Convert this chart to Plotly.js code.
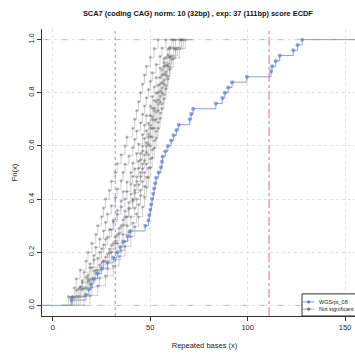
<!DOCTYPE html>
<html>
<head>
<meta charset="utf-8">
<script src="https://cdn.plot.ly/plotly-3.0.1.min.js"></script>
<style>
html,body{margin:0;padding:0;overflow:hidden;background:#fff;width:355px;height:356px;}
#chart{width:372px;height:356px;}
</style>
</head>
<body>
<div id="chart"></div>
<script>
// ---- data ----
const chartTitle = "SCA7 (coding CAG) norm: 10 (32bp) , exp: 37 (111bp) score ECDF";
const xTitle = "Repeated bases (x)";
const yTitle = "Fn(x)";
const xTicks = [0, 50, 100, 150];
const yTicks = [0, 0.2, 0.4, 0.6, 0.8, 1.0];
const normBp = 32;
const expBp = 111;

const sampleName = "WGSrpt_08";
const sampleValues = [9.6, 17, 18.5, 19.5, 21, 23, 25, 28, 31, 33, 34.5, 36, 38.3, 39.7, 47.4,
  49.1, 49.5, 50, 50.5, 50.9, 51.5, 52, 52.5, 53, 54.3, 55.5, 56, 56.3, 57.7, 59,
  60.7, 62, 63.4, 64.6, 70.3, 71, 72, 83.7, 87, 88.3, 90, 92, 99.6, 112, 112.5,
  114.4, 116.5, 123.4, 125.6, 128];

const otherName = "Not significant";
const ns01 = [8, 11, 12, 14, 17, 18, 20, 22, 23, 25, 26, 27, 29, 30, 32, 33, 35, 37, 38, 41, 42, 43, 44, 45, 46, 47, 48, 50, 52, 54];
const ns02 = [10, 13, 15, 16, 19, 21, 22, 24, 26, 27, 28, 30, 32, 33, 35, 36, 37, 39, 41, 42, 43, 45, 46, 47, 48, 49, 50, 51, 53, 55, 56, 58];
const ns03 = [12, 14, 17, 20, 23, 25, 27, 29, 31, 33, 35, 36, 38, 40, 41, 43, 44, 46, 47, 48, 50, 51, 52, 53, 55, 57, 59, 61];
const ns04 = [9, 12, 15, 18, 19, 21, 24, 26, 28, 30, 31, 33, 35, 37, 38, 40, 41, 42, 44, 45, 46, 47, 48, 49, 50, 51, 52, 53, 54, 55, 56, 57, 59, 60, 63];
const ns05 = [14, 17, 20, 23, 26, 29, 31, 33, 35, 37, 39, 41, 42, 43, 45, 46, 47, 48, 49, 50, 51, 52, 53, 54, 55, 56, 57, 58, 60, 62];
const ns06 = [11, 15, 18, 22, 24, 27, 29, 32, 34, 36, 38, 39, 41, 42, 44, 45, 46, 47, 48, 49, 50, 51, 52, 53, 54, 55, 56, 57, 58, 59, 61, 64, 66];
const ns07 = [16, 20, 24, 28, 32, 35, 37, 39, 41, 43, 44, 45, 47, 48, 49, 50, 51, 52, 53, 54, 55, 56, 57, 58, 59, 60, 62, 65, 68];
const ns08 = [13, 16, 19, 21, 25, 28, 30, 32, 34, 36, 37, 39, 40, 42, 43, 44, 45, 46, 48, 49, 50, 51, 52, 54, 55, 56, 57, 58, 60, 62, 65];
const ns09 = [19, 23, 27, 31, 34, 37, 40, 42, 44, 46, 47, 48, 49, 50, 51, 52, 53, 54, 55, 56, 57, 58, 59, 60, 61, 63, 66];
const ns10 = [10, 14, 18, 22, 26, 30, 33, 36, 38, 40, 42, 43, 45, 46, 47, 48, 49, 50, 51, 52, 53, 54, 55, 56, 57, 58, 59, 60, 63, 67];
const otherSamples = [ns01, ns02, ns03, ns04, ns05, ns06, ns07, ns08, ns09, ns10];

// ---- styles ----
const sampleLine = 'rgba(120,145,215,0.85)';
const sampleMarker = 'rgba(95,120,205,0.95)';
const otherLine = 'rgba(165,165,165,0.5)';
const otherMarker = 'rgba(60,60,60,0.5)';

// ---- build ECDF step traces ----
function ecdfTrace(vals, opts) {
  const v = vals.slice().sort((a, b) => a - b);
  const n = v.length;
  const xs = [opts.left], ys = [0], sz = [0];
  v.forEach((x, i) => { xs.push(x); ys.push((i + 1) / n); sz.push(opts.msize); });
  xs.push(opts.right); ys.push(1); sz.push(0);
  return {
    type: 'scatter', mode: 'lines+markers', x: xs, y: ys,
    line: {shape: 'hv', color: opts.lcolor, width: 1},
    marker: {size: sz, color: opts.mcolor, symbol: 'circle', line: {width: 0}},
    name: opts.name, showlegend: false, hoverinfo: 'x+y'
  };
}

const traces = [];
otherSamples.forEach(s => {
  const lo = Math.min(...s), hi = Math.max(...s);
  const ext = 0.08 * (hi - lo);
  traces.push(ecdfTrace(s, {left: lo - ext, right: hi + ext, msize: 3,
    lcolor: otherLine, mcolor: otherMarker, name: otherName}));
});
traces.push(ecdfTrace(sampleValues, {left: -20, right: 200, msize: 4,
  lcolor: sampleLine, mcolor: sampleMarker, name: sampleName}));

// ---- compact legend box (bottom-right, as in the reference) ----
const legendItems = [
  {label: sampleName, line: sampleLine, marker: sampleMarker, y: 0.049},
  {label: otherName, line: 'rgba(150,150,150,0.8)', marker: 'rgba(90,90,90,0.8)', y: 0.024}
];
const legendShapes = [{type: 'rect', xref: 'paper', yref: 'paper', x0: 0.8, x1: 1.0, y0: 0, y1: 0.077,
  fillcolor: '#fff', line: {color: '#333', width: 1}, layer: 'above'}];
const legendAnn = [];
legendItems.forEach(it => {
  legendShapes.push({type: 'line', xref: 'paper', yref: 'paper', x0: 0.803, x1: 0.838, y0: it.y, y1: it.y,
    line: {color: it.line, width: 1}, layer: 'above'});
  legendShapes.push({type: 'circle', xref: 'paper', yref: 'paper', xsizemode: 'pixel', ysizemode: 'pixel',
    xanchor: 0.8205, yanchor: it.y, x0: -1.6, x1: 1.6, y0: -1.6, y1: 1.6,
    fillcolor: it.marker, line: {width: 0}, layer: 'above'});
  legendAnn.push({xref: 'paper', yref: 'paper', x: 0.846, y: it.y, xanchor: 'left', yanchor: 'middle',
    text: it.label, showarrow: false, font: {size: 5.5, color: '#222'}});
});

const font = 'Liberation Sans, Arial, Helvetica, sans-serif';
const layout = {
  width: 372, height: 356,
  margin: {l: 42, r: 5, t: 29, b: 40},
  paper_bgcolor: '#fff', plot_bgcolor: '#fff',
  font: {family: font, size: 8, color: '#222'},
  title: {text: '<b>' + chartTitle + '</b>', font: {family: font, size: 7.4, color: '#111'},
          xref: 'container', x: 0.532, xanchor: 'center', yref: 'container', y: 0.963, yanchor: 'middle'},
  xaxis: {
    range: [-5.6, 161.3], tickvals: xTicks, ticktext: xTicks.map(String),
    ticks: 'outside', ticklen: 4, tickcolor: '#333', tickfont: {size: 7.5},
    showline: true, linecolor: '#333', linewidth: 1, mirror: false,
    showgrid: true, gridcolor: '#e2e2e2', griddash: 'dot', gridwidth: 1, zeroline: false,
    title: {text: xTitle, font: {size: 7.5}, standoff: 11}
  },
  yaxis: {
    range: [-0.04, 1.04], tickvals: yTicks, ticktext: yTicks.map(v => v.toFixed(1)),
    ticks: 'outside', ticklen: 4, tickcolor: '#333', tickfont: {size: 7.5}, tickangle: -90,
    showline: true, linecolor: '#333', linewidth: 1, mirror: false,
    showgrid: true, gridcolor: '#e2e2e2', griddash: 'dot', gridwidth: 1, zeroline: false,
    title: {text: yTitle, font: {size: 7.5}, standoff: 8}
  },
  shapes: [
    {type: 'line', xref: 'paper', x0: 0, x1: 1, yref: 'y', y0: 0, y1: 0, layer: 'below',
     line: {color: '#b3b3b3', width: 1, dash: 'dash'}},
    {type: 'line', xref: 'paper', x0: 0, x1: 1, yref: 'y', y0: 1, y1: 1, layer: 'below',
     line: {color: '#b3b3b3', width: 1, dash: 'dash'}},
    {type: 'line', xref: 'x', x0: normBp, x1: normBp, yref: 'paper', y0: 0, y1: 1,
     line: {color: 'rgba(110,110,255,0.75)', width: 1, dash: 'dot'}},
    {type: 'line', xref: 'x', x0: expBp, x1: expBp, yref: 'paper', y0: 0, y1: 1,
     line: {color: 'rgba(240,70,70,0.8)', width: 1, dash: 'dashdot'}}
  ].concat(legendShapes),
  annotations: legendAnn,
  showlegend: false,
  hovermode: false
};
Plotly.newPlot('chart', traces, layout, {displayModeBar: false, staticPlot: true});
</script>
</body>
</html>
